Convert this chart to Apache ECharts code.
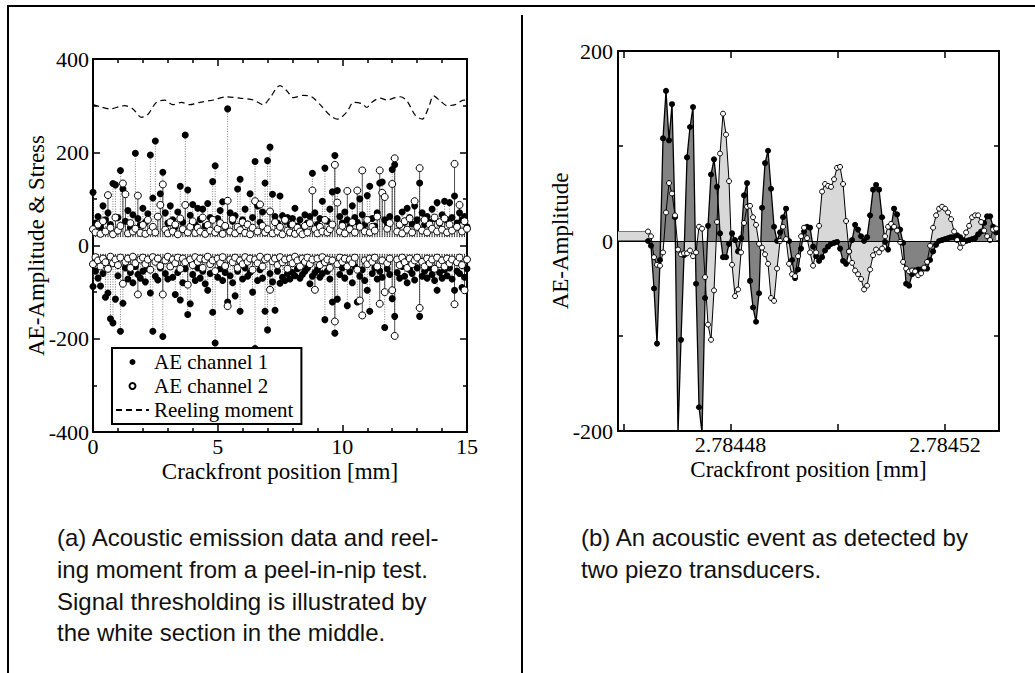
<!DOCTYPE html>
<html><head><meta charset="utf-8">
<script src="https://cdn.jsdelivr.net/npm/echarts@6/dist/echarts.min.js"></script>
<style>html,body{margin:0;padding:0;background:#fff}#c{width:1035px;height:673px}</style>
</head><body><div id="c"></div>
<script>
// ===== (a) Acoustic emission events (crackfront position in mm) =====
const eventX = [
0.0,0.1,0.2,0.3,0.4,0.5,0.6,0.7,0.8,0.9,
1.0,1.1,1.2,1.3,1.4,1.5,1.6,1.7,1.8,1.9,
2.0,2.1,2.2,2.3,2.4,2.5,2.6,2.7,2.8,2.9,
3.0,3.1,3.2,3.3,3.4,3.5,3.6,3.7,3.8,3.9,
4.0,4.1,4.2,4.3,4.4,4.5,4.6,4.7,4.8,4.9,
5.0,5.1,5.2,5.3,5.4,5.5,5.6,5.7,5.8,5.9,
6.0,6.1,6.2,6.3,6.4,6.5,6.6,6.7,6.8,6.9,
7.0,7.1,7.2,7.3,7.4,7.5,7.6,7.7,7.8,7.9,
8.0,8.1,8.2,8.3,8.4,8.5,8.6,8.7,8.8,8.9,
9.0,9.1,9.2,9.3,9.4,9.5,9.6,9.7,9.8,9.9,
10.0,10.1,10.2,10.3,10.4,10.5,10.6,10.7,10.8,10.9,
11.0,11.1,11.2,11.3,11.4,11.5,11.6,11.7,11.8,11.9,
12.0,12.1,12.2,12.3,12.4,12.5,12.6,12.7,12.8,12.9,
13.0,13.1,13.2,13.3,13.4,13.5,13.6,13.7,13.8,13.9,
14.0,14.1,14.2,14.3,14.4,14.5,14.6,14.7,14.8,14.9,
15.0];
const ch1Upper = [
114,48,62,40,85,55,70,45,133,130,
60,161,121,52,75,38,66,198,58,44,
80,50,68,194,102,224,62,111,157,70,
48,85,55,40,72,127,50,237,119,65,
88,45,80,56,78,42,90,60,137,171,
58,75,94,40,293,70,52,64,121,142,
55,78,46,111,60,180,85,50,72,134,
182,211,110,62,48,106,64,52,60,45,
58,80,42,55,38,66,48,62,155,70,
45,58,95,166,52,78,115,193,118,62,
48,72,55,40,85,60,50,100,66,45,
107,127,58,42,70,134,136,55,48,62,
163,173,58,44,72,50,80,60,46,85,
55,134,70,45,62,50,78,58,92,48,
66,95,55,92,60,106,48,70,55,62,
40];
const ch2Upper = [
35,28,45,25,52,30,108,38,24,60,
32,42,133,110,26,48,30,36,107,27,
44,25,55,30,40,28,62,87,131,34,
26,50,30,45,24,58,35,87,28,40,
52,27,38,30,60,25,44,32,55,28,
36,48,25,42,96,30,57,26,40,33,
50,27,45,24,38,95,30,88,42,28,
35,73,26,50,30,40,24,55,32,28,
45,25,38,30,24,42,28,48,118,35,
26,40,30,55,28,35,45,173,92,30,
42,26,117,35,50,28,118,40,161,30,
55,28,40,32,62,161,113,104,36,48,
132,187,30,45,26,52,34,58,28,95,
40,166,32,55,28,45,36,60,30,50,
34,58,28,45,32,175,40,87,30,52,
36];
const ch1Lower = [
-88,-55,-70,-87,-60,-111,-102,-157,-166,-115,
-65,-184,-124,-48,-72,-58,-80,-45,-62,-70,
-55,-78,-50,-102,-184,-66,-74,-48,-195,-60,
-72,-45,-68,-105,-58,-117,-80,-50,-148,-125,
-62,-75,-48,-70,-55,-82,-96,-60,-143,-209,
-68,-50,-75,-58,-121,-65,-80,-108,-55,-141,
-72,-48,-66,-58,-100,-221,-75,-52,-70,-141,
-181,-60,-78,-139,-55,-81,-68,-75,-60,-72,
-58,-65,-50,-70,-62,-55,-48,-82,-66,-58,
-52,-68,-60,-159,-55,-72,-121,-188,-115,-62,
-48,-70,-129,-56,-80,-45,-121,-66,-52,-75,
-96,-141,-60,-48,-72,-55,-68,-176,-50,-62,
-114,-152,-58,-70,-45,-66,-80,-52,-60,-74,
-48,-152,-66,-55,-70,-48,-62,-75,-96,-58,
-70,-52,-65,-48,-72,-96,-55,-60,-90,-68,
-50];
const ch2Lower = [
-40,-25,-32,-45,-28,-36,-50,-24,-38,-30,
-42,-26,-82,-35,-28,-48,-24,-38,-105,-30,
-26,-40,-30,-52,-25,-35,-28,-44,-105,-32,
-24,-45,-30,-38,-26,-50,-28,-36,-84,-30,
-42,-25,-35,-28,-48,-30,-24,-40,-32,-55,
-28,-38,-25,-44,-130,-30,-36,-26,-48,-32,
-40,-25,-35,-28,-52,-30,-38,-24,-45,-30,
-26,-95,-34,-28,-42,-25,-36,-30,-50,-28,
-38,-24,-32,-45,-28,-35,-26,-40,-30,-95,
-28,-42,-25,-36,-30,-48,-32,-163,-40,-26,
-35,-28,-45,-30,-38,-26,-52,-118,-150,-32,
-40,-28,-35,-26,-45,-125,-32,-100,-38,-28,
-96,-194,-30,-42,-26,-36,-48,-28,-40,-32,
-26,-134,-35,-45,-28,-38,-30,-50,-26,-40,
-32,-45,-28,-38,-30,-126,-36,-26,-42,-96,
-30];
const THRESHOLD = 18;
// reeling moment (dashed)
const reelX = [0,0.27,0.67,1.07,1.27,1.6,1.94,2.2,2.54,2.87,3.2,3.54,3.88,4.28,4.82,5.36,5.9,6.43,6.83,7.1,7.5,7.77,8.03,8.44,8.77,9.18,9.51,9.8,10.18,10.45,10.79,10.98,11.18,11.52,11.79,12.12,12.32,12.59,12.93,13.2,13.46,13.66,13.93,14.2,14.53,14.87,15];
const reelY = [302,298,293,298,300,293,275,281,307,312,302,307,302,307,312,319,316,312,302,317,343,332,317,322,319,298,279,271,286,307,304,296,307,316,312,317,319,310,279,271,296,321,310,300,302,312,312];

// ===== (b) single acoustic event, two transducers =====
const waveX0 = 2.7844646;   // position of first sample [mm]
const waveDX = 5.6e-7;      // sample spacing [mm]
const wave1 = [
0,-5,-50,-108,-20,108,158,106,144,25,
-202,-104,-15,88,120,141,-45,-175,-202,-60,
16,70,86,57,8,-17,-17,-3,8,1,
-11,3,48,61,-42,-70,-85,-55,35,82,
95,55,15,0,9,25,34,0,-20,-39,
-30,-8,10,15,14,-6,-16,-21,-17,-10,
-6,-3,-2,-1,-8,-21,-24,-11,1,17,
12,5,0,4,27,54,59,54,25,-1,
-9,14,34,28,12,-2,-45,-47,-35,-31,
-30,-30,-29,-29,-20,-11,-4,0,1,2,
3,4,4,6,4,1,0,1,2,3,
7,10,19,26,26,15,9];
const wave2 = [
10,5,-17,-25,-26,-12,30,61,50,27,
-9,-14,-13,-13,-10,-16,-12,15,13,-38,
-88,-104,-52,20,92,134,112,63,-25,-58,
-51,-12,19,36,37,25,17,-3,-7,-14,
-24,-60,-63,-29,0,15,2,-24,-35,-37,
-16,5,14,3,-12,-26,-12,16,52,60,
58,57,65,77,78,60,21,-11,-23,-31,
-35,-40,-51,-47,-30,-15,-9,-12,-8,5,
15,18,15,11,-1,-22,-29,-32,-31,-32,
-36,-34,-28,-22,-5,14,27,34,36,34,
30,23,10,1,-7,-2,9,16,25,27,
27,20,11,5,1,12,13];
const preTriggerX = [2.7844590, 2.7844646];
const preTrigger1 = [0, 0];
const preTrigger2 = [10, 10];
const xMinB = 2.7844590, xMaxB = 2.7845301;
const axisBTicksX = [2.78446, 2.78448, 2.78450, 2.78452];
const axisBLabelsX = [2.78448, 2.78452];

// ===== build =====
const SERIF = 'Liberation Serif';
const SANS = 'Liberation Sans';
const pts1 = [], pts2 = [];
const nEv = Math.min(eventX.length, ch1Upper.length, ch2Upper.length, ch1Lower.length, ch2Lower.length);
for (let i = 0; i < nEv; i++) {
  pts1.push([eventX[i], ch1Upper[i]], [eventX[i], ch1Lower[i]]);
  pts2.push([eventX[i], ch2Upper[i]], [eventX[i], ch2Lower[i]]);
}
const reel = reelX.map((x, i) => [x, reelY[i]]);
const nW = Math.min(wave1.length, wave2.length);
const w1 = [], w2 = [];
for (let i = 0; i < nW; i++) {
  const x = waveX0 + i * waveDX;
  w1.push([x, wave1[i]]); w2.push([x, wave2[i]]);
}
const pre1 = preTriggerX.map((x, i) => [x, preTrigger1[i]]);
const pre2 = preTriggerX.map((x, i) => [x, preTrigger2[i]]);

function dropRender(style) {
  return function (params, api) {
    const x = api.value(0), y = api.value(1);
    const b = api.coord([x, y > 0 ? THRESHOLD : -THRESHOLD]);
    const t = api.coord([x, y]);
    return { type: 'line', silent: true, shape: { x1: b[0], y1: b[1], x2: t[0], y2: t[1] }, style: style };
  };
}

const labelStyle = { fontFamily: SERIF, fontSize: 22, color: '#000' };
const tickStyle = { color: '#000', width: 1.5 };
function axis(o) {
  const base = {
    type: 'value',
    axisLine: { show: true, onZero: false, lineStyle: { color: '#000', width: 2 } },
    axisTick: { show: true, inside: true, length: 7, lineStyle: tickStyle },
    splitLine: { show: false },
    axisLabel: Object.assign({ show: true }, labelStyle),
    nameTextStyle: { fontFamily: SERIF, fontSize: 23, color: '#000' },
    nameLocation: 'middle',
    nameMoveOverlap: false
  };
  for (const k in o) {
    if (base[k] && typeof base[k] === 'object' && !Array.isArray(base[k]) && typeof o[k] === 'object' && !Array.isArray(o[k])) base[k] = Object.assign({}, base[k], o[k]);
    else base[k] = o[k];
  }
  return base;
}

const chart = echarts.init(document.getElementById('c'), null, { renderer: 'svg' });
const option = {
  backgroundColor: '#fff',
  animation: false,
  grid: [
    { left: 93, top: 59, width: 374, height: 373, outerBoundsMode: 'none', containLabel: false },
    { left: 618, top: 51, width: 381, height: 380, outerBoundsMode: 'none', containLabel: false }
  ],
  xAxis: [
    axis({ gridIndex: 0, position: 'bottom', min: 0, max: 15, interval: 5,
      minorTick: { show: true, splitNumber: 5, length: 4, lineStyle: tickStyle },
      axisLabel: { margin: 3 }, name: 'Crackfront position [mm]', nameGap: 28 }),
    axis({ gridIndex: 0, position: 'top', min: 0, max: 15, interval: 5,
      minorTick: { show: true, splitNumber: 5, length: 4, lineStyle: tickStyle },
      axisLabel: { show: false } }),
    axis({ gridIndex: 1, position: 'bottom', min: xMinB, max: xMaxB,
      axisTick: { customValues: axisBTicksX },
      axisLabel: { margin: 2, customValues: axisBLabelsX, formatter: v => Number(v).toFixed(5) },
      name: 'Crackfront position [mm]', nameGap: 27 }),
    axis({ gridIndex: 1, position: 'top', min: xMinB, max: xMaxB,
      axisTick: { customValues: axisBTicksX }, axisLabel: { show: false } })
  ],
  yAxis: [
    axis({ gridIndex: 0, position: 'left', min: -400, max: 400, interval: 200,
      minorTick: { show: true, splitNumber: 2, length: 4, lineStyle: tickStyle },
      axisLabel: { margin: 4 }, name: 'AE-Amplitude & Stress', nameGap: 45 }),
    axis({ gridIndex: 0, position: 'right', min: -400, max: 400, interval: 200,
      minorTick: { show: true, splitNumber: 2, length: 4, lineStyle: tickStyle },
      axisLabel: { show: false } }),
    axis({ gridIndex: 1, position: 'left', min: -200, max: 200, interval: 100,
      axisTick: { length: 5 },
      axisLabel: { margin: 5, formatter: v => (v % 200 === 0 ? String(v) : '') },
      name: 'AE-Amplitude', nameGap: 46 }),
    axis({ gridIndex: 1, position: 'right', min: -200, max: 200, interval: 100,
      axisTick: { length: 5 }, axisLabel: { show: false } })
  ],
  legend: {
    left: 112, top: 348, orient: 'vertical', itemWidth: 33, itemHeight: 6, itemGap: 0,
    padding: [2, 8, 2, 3], borderColor: '#000', borderWidth: 2, borderRadius: 0, backgroundColor: '#fff',
    selectedMode: false,
    textStyle: { fontFamily: SERIF, fontSize: 21, color: '#000', lineHeight: 24 },
    data: ['AE channel 1', 'AE channel 2', { name: 'Reeling moment', itemStyle: { opacity: 0 } }]
  },
  title: [
    { left: 57, top: 522, padding: 0, text: '(a) Acoustic emission data and reel-\ning moment from a peel-in-nip test.\nSignal thresholding is illustrated by\nthe white section in the middle.',
      textStyle: { fontFamily: SANS, fontSize: 24, fontWeight: 'normal', color: '#111', lineHeight: 31.6 } },
    { left: 581, top: 522, padding: 0, text: '(b) An acoustic event as detected by\ntwo piezo transducers.',
      textStyle: { fontFamily: SANS, fontSize: 24, fontWeight: 'normal', color: '#111', lineHeight: 31.6 } }
  ],
  graphic: [
    { type: 'line', shape: { x1: 7, y1: 6, x2: 1035, y2: 6 }, style: { stroke: '#000', lineWidth: 2 } },
    { type: 'line', shape: { x1: 8, y1: 6, x2: 8, y2: 673 }, style: { stroke: '#000', lineWidth: 2 } },
    { type: 'line', shape: { x1: 522, y1: 15, x2: 522, y2: 673 }, style: { stroke: '#000', lineWidth: 2 } }
  ],
  series: [
    { type: 'custom', name: 'drop1', xAxisIndex: 0, yAxisIndex: 0, data: pts1, z: 1, clip: true,
      renderItem: dropRender({ stroke: '#7a7a7a', lineWidth: 1, lineDash: [1, 1.5] }) },
    { type: 'custom', name: 'drop2', xAxisIndex: 0, yAxisIndex: 0, data: pts2, z: 1, clip: true,
      renderItem: dropRender({ stroke: '#222', lineWidth: 0.8 }) },
    { type: 'scatter', name: 'AE channel 1', xAxisIndex: 0, yAxisIndex: 0, data: pts1, symbol: 'circle', symbolSize: 7,
      itemStyle: { color: '#000', opacity: 1 }, z: 2 },
    { type: 'scatter', name: 'AE channel 2', xAxisIndex: 0, yAxisIndex: 0, data: pts2, symbol: 'circle', symbolSize: 7,
      itemStyle: { color: '#fff', borderColor: '#000', borderWidth: 1, opacity: 1 }, z: 3 },
    { type: 'line', name: 'Reeling moment', xAxisIndex: 0, yAxisIndex: 0, data: reel, symbol: 'none', smooth: 0.3,
      lineStyle: { color: '#000', width: 1.2, type: [6, 4] }, z: 4 },

    // (b)
    { type: 'line', name: 'pre2', xAxisIndex: 2, yAxisIndex: 2, data: pre2, symbol: 'none',
      lineStyle: { color: '#777', width: 1 }, areaStyle: { color: '#d8d8d8', opacity: 1, origin: 'auto' }, z: 1 },
    { type: 'line', name: 'area2', xAxisIndex: 2, yAxisIndex: 2, data: w2, symbol: 'none',
      lineStyle: { opacity: 0, width: 0 }, areaStyle: { color: '#d8d8d8', opacity: 1, origin: 'auto' }, z: 1 },
    { type: 'line', name: 'area1', xAxisIndex: 2, yAxisIndex: 2, data: w1, symbol: 'none',
      lineStyle: { opacity: 0, width: 0 }, areaStyle: { color: '#838383', opacity: 1, origin: 'auto' }, z: 1 },
    { type: 'line', name: 'pre1', xAxisIndex: 2, yAxisIndex: 2, data: pre1, symbol: 'none',
      lineStyle: { color: '#000', width: 1 }, z: 2,
      markLine: { silent: true, symbol: 'none', label: { show: false }, animation: false,
        lineStyle: { color: '#000', width: 1.2, type: 'solid' }, data: [{ yAxis: 0 }] } },
    { type: 'line', name: 'wave1', xAxisIndex: 2, yAxisIndex: 2, data: w1, symbol: 'circle', symbolSize: 6, showAllSymbol: true,
      lineStyle: { color: '#000', width: 1.3 }, itemStyle: { color: '#000' }, z: 3 },
    { type: 'line', name: 'wave2', xAxisIndex: 2, yAxisIndex: 2, data: w2, symbol: 'circle', symbolSize: 5, showAllSymbol: true,
      lineStyle: { color: '#000', width: 1 }, itemStyle: { color: '#fff', borderColor: '#000', borderWidth: 1 }, z: 4 }
  ]
};
chart.setOption(option);
</script>
</body></html>
